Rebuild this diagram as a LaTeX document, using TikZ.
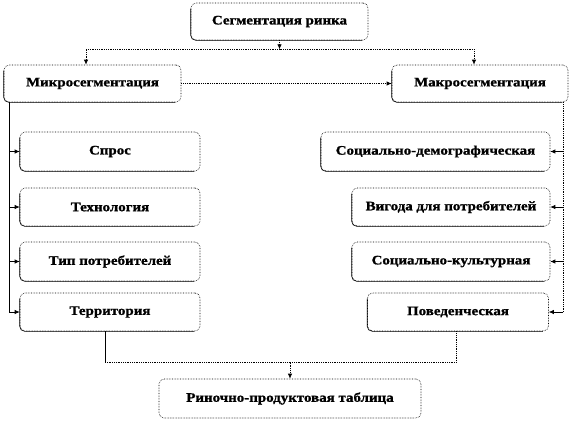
\documentclass[tikz,border=0pt]{standalone}
\usepackage{fontspec}
\newfontfamily\boxfont{Liberation Serif}[FakeStretch=1.15,FakeBold=1.2]
\usetikzlibrary{arrows.meta,calc}
\tikzset{
  boxx/.style={draw=black, densely dotted, line width=0.6pt, rounded corners=5pt,
    inner sep=0pt, font=\boxfont\bfseries\fontsize{13}{15}\selectfont, text=black},
  solidl/.style={draw=black, line width=0.7pt},
  dotl/.style={draw=black, densely dotted, line width=0.8pt},
  tip/.style={-{Latex[length=5pt,width=4.5pt]}},
  edgefix/.style={draw=black, line width=0.6pt, rounded corners=5pt}
}
\begin{document}
\begin{tikzpicture}[x=1pt,y=-1pt]
\useasboundingbox (0,0) rectangle (572,421);
\node[boxx, minimum width=177pt, minimum height=37pt] (top) at (279.5,21.5) {Сегментация ринка};
\node[boxx, minimum width=177pt, minimum height=37pt] (micro) at (92.5,83.5) {Микросегментация};
\node[boxx, minimum width=176pt, minimum height=37pt] (macro) at (480,83.5) {Макросегментация};
\node[boxx, minimum width=180pt, minimum height=39pt] (spros) at (110,151.5) {Спрос};
\node[boxx, minimum width=180pt, minimum height=38pt] (tech) at (110,207) {Технология};
\node[boxx, minimum width=180pt, minimum height=39pt] (typ) at (110,261.5) {Тип потребителей};
\node[boxx, minimum width=180pt, minimum height=38pt] (terr) at (110,312) {Территория};
\node[boxx, minimum width=229pt, minimum height=39pt] (sd) at (435.5,151.5) {Социально-демографическая};
\node[boxx, minimum width=198pt, minimum height=38pt] (vyg) at (451,207) {Вигода для потребителей};
\node[boxx, minimum width=198pt, minimum height=39pt] (sk) at (451,261.5) {Социально-культурная};
\node[boxx, minimum width=181pt, minimum height=38pt] (pov) at (458,312) {Поведенческая};
\node[boxx, minimum width=262pt, minimum height=39pt] (table) at (290,398.5) {Риночно-продуктовая таблица};
% solid left and bottom edges
\foreach \n in {top,micro,macro,spros,tech,typ,terr,sd,vyg,sk,pov}
  \draw[edgefix] ([yshift=-6pt]\n.north west) -- (\n.south west) -- ([xshift=-6pt]\n.south east);
% top connectors
\coordinate (tbus) at ($(top.south)+(0,9)$);
\draw[dotl,tip] (top.south) -- (tbus);
\draw[dotl,tip] (tbus) -| ([xshift=-6.5pt]micro.north);
\draw[dotl,tip] (tbus) -| ([xshift=-6pt]macro.north);
\draw[dotl,tip] (micro.east) -- (macro.west);
% left bus
\coordinate (lx) at (9,0);
\draw[solidl] (micro.south -| lx) -- (terr.west -| lx);
\foreach \n in {spros,tech,typ,terr}
  \draw[solidl,tip] (\n.west -| lx) -- (\n.west);
% right bus
\coordinate (rx) at (563,0);
\draw[dotl] (macro.south -| rx) -- (pov.east -| rx);
\foreach \n in {sd,vyg,sk,pov}
  \draw[solidl,tip] (\n.east -| rx) -- (\n.east);
% bottom connectors
\coordinate (bb) at ($(table.north)+(0,-16)$);
\path ([xshift=-5pt]terr.south) coordinate (tl);
\path ([xshift=-2pt]pov.south) coordinate (pr);
\coordinate (bl) at (tl |- bb);
\coordinate (br) at (pr |- bb);
\draw[solidl] (tl) -- (bl);
\draw[dotl] (bl) -- (br);
\draw[dotl] (pr) -- (br);
\draw[dotl,tip] (bb) -- (table.north);
\end{tikzpicture}
\end{document}
